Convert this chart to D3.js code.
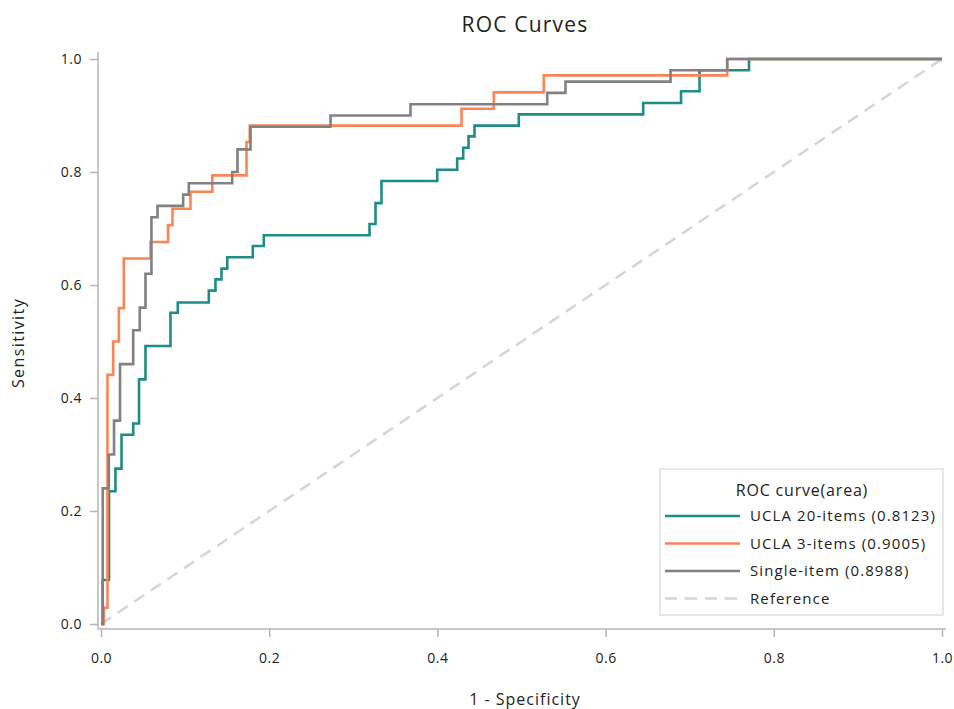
<!DOCTYPE html>
<html>
<head>
<meta charset="utf-8">
<script src="https://cdn.jsdelivr.net/npm/d3@7"></script>
<style>
    body { margin: 0; background: #fff; }
    text { font-family: "Open Sans", "DejaVu Sans", sans-serif; fill: #222; }
</style>
</head>
<body>
<svg id="chart" width="954" height="709"></svg>
<script>
// step points of each ROC curve: [1 - specificity, sensitivity]
let ucla20 = [
    [0, 0], [0.002, 0.078], [0.0095, 0.235], [0.0172, 0.275], [0.0244, 0.335],
    [0.0383, 0.355], [0.0452, 0.433], [0.0529, 0.492], [0.0826, 0.551], [0.0913, 0.569],
    [0.1282, 0.590], [0.1361, 0.610], [0.1433, 0.629], [0.1501, 0.649], [0.1805, 0.669],
    [0.1936, 0.688], [0.3193, 0.708], [0.3264, 0.745], [0.3335, 0.784], [0.3998, 0.804],
    [0.4235, 0.824], [0.4307, 0.843], [0.4370, 0.863], [0.4441, 0.882], [0.4968, 0.902],
    [0.6447, 0.922], [0.6897, 0.943], [0.7117, 0.980], [0.7705, 1.0], [1, 1]
];

let ucla3 = [
    [0, 0], [0.0033, 0.029], [0.0077, 0.441], [0.0145, 0.500], [0.0212, 0.559],
    [0.0271, 0.647], [0.0589, 0.676], [0.0797, 0.706], [0.0850, 0.735], [0.1064, 0.765],
    [0.1323, 0.794], [0.1730, 0.853], [0.1769, 0.882], [0.4287, 0.912], [0.4671, 0.941],
    [0.5265, 0.971], [0.7446, 1.0], [1, 1]
];

let singleItem = [
    [0, 0], [0.0021, 0.24], [0.0093, 0.30], [0.0155, 0.36], [0.0226, 0.46],
    [0.0383, 0.52], [0.0461, 0.56], [0.0529, 0.62], [0.0600, 0.72], [0.0672, 0.74],
    [0.0977, 0.76], [0.1044, 0.78], [0.1560, 0.80], [0.1623, 0.84], [0.1778, 0.88],
    [0.2729, 0.90], [0.3680, 0.92], [0.5306, 0.94], [0.5523, 0.96], [0.6772, 0.98],
    [0.7446, 1.0], [1, 1]
];

let referenceLine = [[0, 0], [1, 1]];

let seriesNames = ['UCLA 20-items (0.8123)', 'UCLA 3-items (0.9005)', 'Single-item (0.8988)', 'Reference'];
let seriesColors = ['#1f8c85', '#fb8557', '#818181', '#d5d5d5'];
let tickValues = [0, 0.2, 0.4, 0.6, 0.8, 1.0];

let svg = d3.select('#chart');

let x = d3.scaleLinear().domain([0, 1]).range([101, 942]);
let y = d3.scaleLinear().domain([0, 1]).range([624, 59]);

// title
svg.append('text')
    .attr('x', 525)
    .attr('y', 32)
    .attr('text-anchor', 'middle')
    .style('font-size', '21px')
    .style('letter-spacing', '1.2px')
    .text('ROC Curves');

// axes, drawn a little outside the data range like the original
let axisColor = '#b4b4b4';

svg.append('line')
    .attr('x1', 98).attr('x2', 98)
    .attr('y1', 52).attr('y2', 629)
    .attr('stroke', axisColor).attr('stroke-width', 1.5);

svg.append('line')
    .attr('x1', 98).attr('x2', 946)
    .attr('y1', 629).attr('y2', 629)
    .attr('stroke', axisColor).attr('stroke-width', 1.5);

let yAxis = svg.append('g')
    .attr('transform', 'translate(98,0)')
    .call(d3.axisLeft(y).tickValues(tickValues).tickFormat(d3.format('.1f')).tickSize(8).tickPadding(8));

let xAxis = svg.append('g')
    .attr('transform', 'translate(0,629)')
    .call(d3.axisBottom(x).tickValues(tickValues).tickFormat(d3.format('.1f')).tickSize(8).tickPadding(16));

[xAxis, yAxis].forEach(a => {
    a.select('.domain').remove();
    a.selectAll('line').attr('stroke', axisColor).attr('stroke-width', 1.5);
    a.selectAll('text')
        .style('font-size', '14px')
        .style('font-family', '"Open Sans", sans-serif')
        .style('letter-spacing', '0.5px')
        .attr('fill', '#222');
});

// axis labels
svg.append('text')
    .attr('x', 525)
    .attr('y', 705)
    .attr('text-anchor', 'middle')
    .style('font-size', '16px')
    .style('letter-spacing', '1px')
    .text('1 - Specificity');

svg.append('text')
    .attr('transform', 'translate(24,343) rotate(-90)')
    .attr('text-anchor', 'middle')
    .style('font-size', '16px')
    .style('letter-spacing', '1.4px')
    .text('Sensitivity');

// curves
let line = d3.line()
    .x(d => x(d[0]))
    .y(d => y(d[1]));

let stepLine = d3.line()
    .x(d => x(d[0]))
    .y(d => y(d[1]))
    .curve(d3.curveStepAfter);

svg.append('path')
    .attr('d', line(referenceLine))
    .attr('fill', 'none')
    .attr('stroke', seriesColors[3])
    .attr('stroke-width', 2.5)
    .attr('stroke-dasharray', '12,8');

[ucla20, ucla3, singleItem].forEach((data, i) => {
    svg.append('path')
        .attr('d', stepLine(data))
        .attr('fill', 'none')
        .attr('stroke', seriesColors[i])
        .attr('stroke-width', 2.6);
});

// legend
let legend = svg.append('g').attr('transform', 'translate(660,469)');

legend.append('rect')
    .attr('width', 283)
    .attr('height', 146)
    .attr('fill', '#fff')
    .attr('stroke', '#cfcfcf');

legend.append('text')
    .attr('x', 142)
    .attr('y', 27)
    .attr('text-anchor', 'middle')
    .style('font-size', '16px')
    .style('letter-spacing', '0.8px')
    .text('ROC curve(area)');

let rows = legend.selectAll('g.row')
    .data(seriesNames)
    .enter().append('g')
    .attr('class', 'row')
    .attr('transform', (d, i) => `translate(0, ${47 + i * 27.5})`);

rows.append('line')
    .attr('x1', 5).attr('x2', 80)
    .attr('stroke', (d, i) => seriesColors[i])
    .attr('stroke-width', 2.6)
    .attr('stroke-dasharray', (d, i) => i == 3 ? '12,8' : null);

rows.append('text')
    .attr('x', 90)
    .attr('y', 5)
    .style('font-size', '15px')
    .style('letter-spacing', '1.1px')
    .text(d => d);
</script>
</body>
</html>
